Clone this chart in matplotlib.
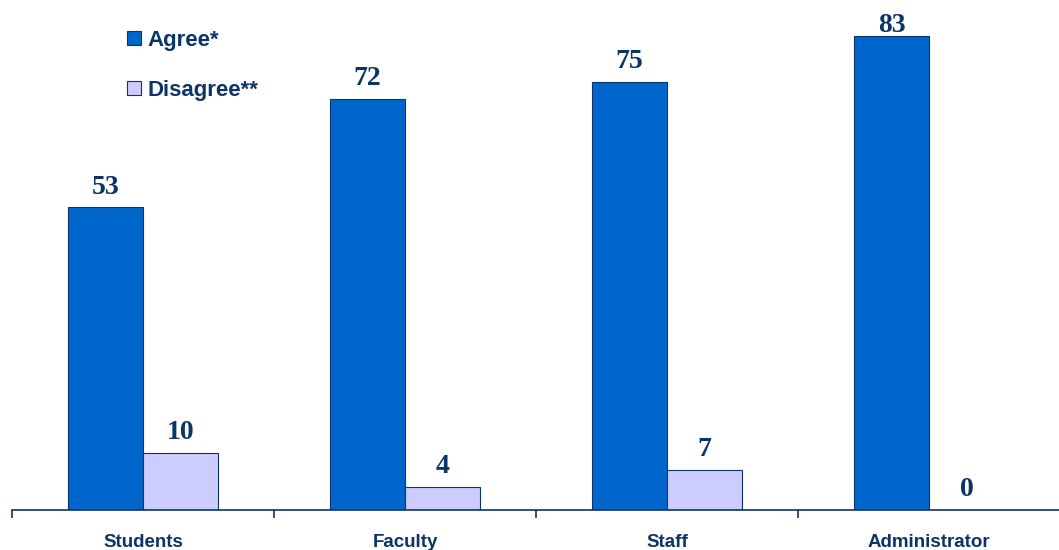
import matplotlib
matplotlib.use("Agg")
import matplotlib.pyplot as plt
from matplotlib.patches import Patch
import numpy as np

categories = ["Students", "Faculty", "Staff", "Administrator"]
agree = [53, 72, 75, 83]
disagree = [10, 4, 7, 0]
series_names = ["Agree*", "Disagree**"]

navy = "#0d3466"
c_agree = "#0066CC"
c_dis = "#CCCCFF"

W, H = 1059, 550
YMAX = 89.3
fig = plt.figure(figsize=(W / 100, H / 100), dpi=100)
ax = fig.add_axes([12 / W, 40 / H, 1048 / W, 510 / H])

x = np.arange(len(categories))
w = 75 / 262
ax.bar(x - w / 2, agree, width=w, color=c_agree, edgecolor=navy, linewidth=0.8)
ax.bar(x + w / 2, disagree, width=w, color=c_dis, edgecolor=navy, linewidth=0.8)

def label(xs, vals):
    for xi, v in zip(xs, vals):
        y = min(v + 2.4, YMAX - 5.6)
        ax.text(xi, y, str(v), ha="center", va="baseline", family="Liberation Serif",
                fontweight="bold", fontsize=20, color=navy)

label(x - w / 2, agree)
label(x + w / 2, disagree)

ax.set_xlim(-0.5, len(categories) - 0.5)
ax.set_ylim(0, YMAX)
for s in ["top", "right", "left"]:
    ax.spines[s].set_visible(False)
ax.spines["bottom"].set_color(navy)
ax.spines["bottom"].set_linewidth(1.2)
ax.set_yticks([])
ax.set_xticks(x)
ax.set_xticklabels(categories, family="Liberation Sans", fontweight="bold", fontsize=13.5, color=navy)
ax.tick_params(axis="x", which="major", length=0, pad=17.5)
ax.set_xticks(np.arange(len(categories) + 1) - 0.5, minor=True)
ax.tick_params(axis="x", which="minor", length=6, width=1.2, color=navy, direction="out")

handles = [Patch(facecolor=c_agree, edgecolor=navy, linewidth=0.8),
           Patch(facecolor=c_dis, edgecolor=navy, linewidth=0.8)]
leg = fig.legend(handles, series_names, loc="upper left",
                 bbox_to_anchor=(127 / W, 1 - 30 / H), frameon=False,
                 prop={"family": "Liberation Sans", "weight": "bold", "size": 16},
                 handlelength=0.63, handleheight=0.63, handletextpad=0.3,
                 labelspacing=1.3, borderpad=0, borderaxespad=0)
for t in leg.get_texts():
    t.set_color(navy)

fig.savefig("out.png", dpi=100)
